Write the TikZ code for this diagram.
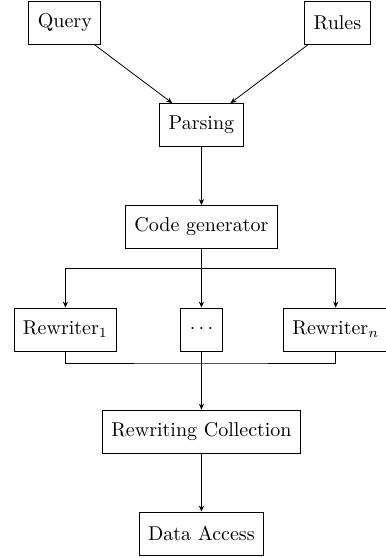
\documentclass[tikz,border=0pt]{standalone}
\usepackage{tikz}
\usetikzlibrary{arrows.meta}

\begin{document}
\begin{tikzpicture}[>={Stealth[length=3pt, width=2.6pt]},
        block/.style={draw, rectangle, minimum height=21.5pt, inner xsep=4.5pt}]

        % Fix the size of the page.
        \useasboundingbox (0, 0) rectangle (6.783, -9.806);

        % Inputs and the parser.
        \node[block] (query)   at (1.14, -0.395) {Query};
        \node[block] (rules)   at (5.93, -0.395) {Rules};
        \node[block] (parsing) at (3.54, -2.197) {Parsing};
        \node[block] (codegen) at (3.54, -3.989) {Code generator};

        % The row of rewriters.
        \node[block] (rwone)  at (1.15, -5.790) {Rewriter$_1$};
        \node[block] (rwdots) at (3.54, -5.790) {$\cdots$};
        \node[block] (rwn)    at (5.90, -5.790) {Rewriter$_n$};

        % Collection and data access.
        \node[block] (collection) at (3.54, -7.583) {Rewriting Collection};
        \node[block] (access)     at (3.54, -9.375) {Data Access};

        % Points where the lines split and join.
        \coordinate (split) at (3.54, -4.710);
        \coordinate (merge) at (3.54, -6.379);

        % Arrows into and out of the parser.
        \draw[->] (query) to (parsing);
        \draw[->] (rules) to (parsing);
        \draw[->] (parsing) to (codegen);

        % Fan out to the rewriters.
        \draw[->] (codegen) to (rwdots);
        \draw[->] (split) -| (rwone);
        \draw[->] (split) -| (rwn);

        % Gather the rewriters again.
        \draw (rwone) |- (merge) -| (rwn);
        \draw[->] (rwdots) to (collection);
        \draw[->] (collection) to (access);
    \end{tikzpicture}
\end{document}
